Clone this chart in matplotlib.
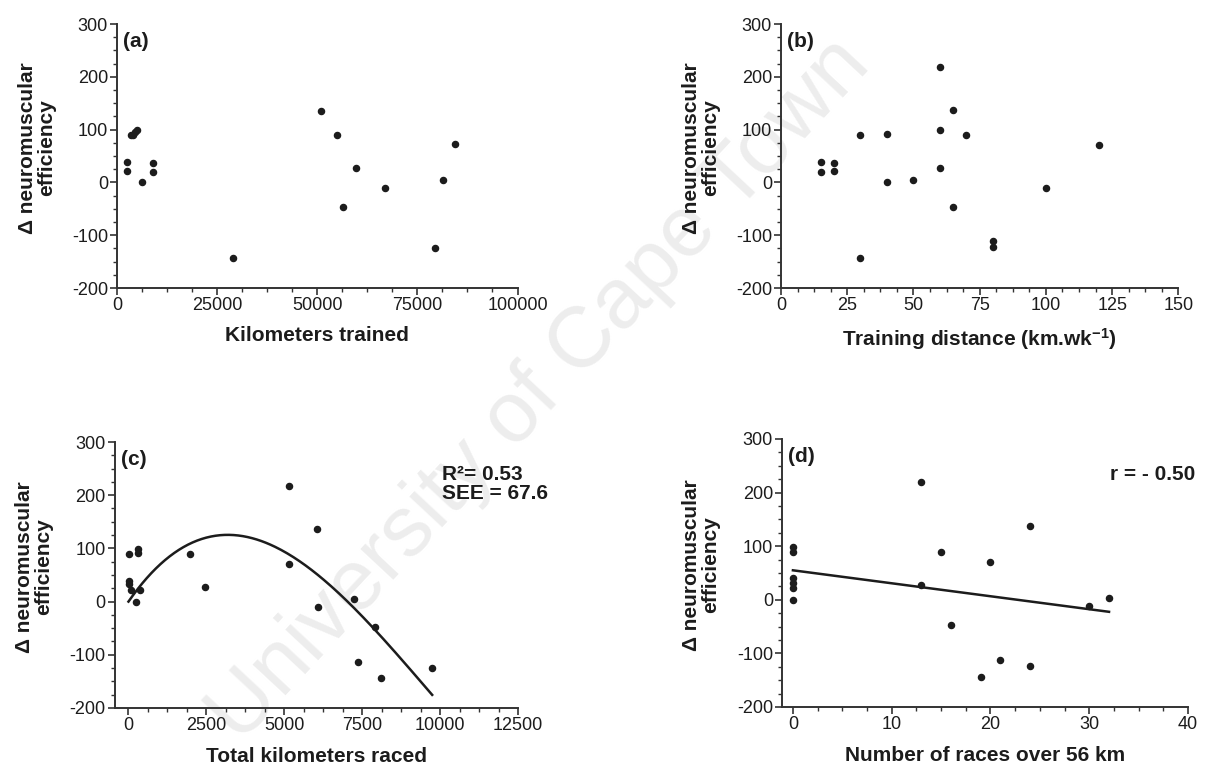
import numpy as np
import matplotlib
matplotlib.use('Agg')
import matplotlib.pyplot as plt
from matplotlib.ticker import MultipleLocator, AutoMinorLocator

plt.rcParams['font.family'] = ['Liberation Sans', 'DejaVu Sans']
plt.rcParams['axes.unicode_minus'] = False
plt.rcParams['mathtext.fontset'] = 'custom'
plt.rcParams['mathtext.rm'] = 'Liberation Sans:bold'
plt.rcParams['mathtext.it'] = 'Liberation Sans:bold'
plt.rcParams['mathtext.bf'] = 'Liberation Sans:bold'

INK = '#1c1c1c'

# (a) cumulative kilometres trained
km_trained = [2400, 2600, 3400, 4000, 4500, 5000, 6200, 9100, 9100, 28900,
              51000, 54900, 56400, 59600, 66800, 79500, 81300, 84400]
nme_a = [39, 21, 90, 90, 96, 99, 0, 36, 20, -144,
         136, 90, -47, 27, -10, -125, 4, 72]

# (b) weekly training distance
km_per_week = [15, 15, 20, 20, 30, 30, 40, 40, 50, 60, 60, 60, 65, 65, 70, 80, 80, 100, 120]
nme_b = [39, 20, 36, 22, 90, -143, 91, 0, 5, 219, 99, 28, 137, -46, 90, -111, -123, -10, 71]

# (c) total kilometres raced, with cubic fit
km_raced = [20, 20, 30, 90, 240, 290, 290, 380, 1980, 2470,
            5140, 5140, 6050, 6070, 7230, 7360, 7910, 8090, 9740]
nme_c = [90, 38, 33, 22, 0, 99, 92, 22, 90, 27,
         218, 71, 137, -11, 4, -113, -47, -144, -125]
cubic_coef = [5.52e-10, -1.589e-5, 0.0844, 0.0]   # highest power first

# (d) races over 56 km, with linear fit
races_56 = [0, 0, 0, 0, 0, 0, 13, 13, 15, 16, 19, 20, 21, 24, 24, 30, 32]
nme_d = [99, 90, 40, 31, 22, 0, 219, 28, 90, -47, -144, 71, -113, 137, -124, -11, 4]
line_coef = [-2.42, 55.0]

fig = plt.figure(figsize=(12.08, 7.73), dpi=100)

# watermark behind everything
fig.text(0.447, 0.495, 'University of Cape Town', fontsize=62, color='#ededed',
         rotation=47, ha='center', va='center', zorder=-5)

rects = {
    'a': [0.0969, 0.6274, 0.3315, 0.3415],
    'b': [0.6465, 0.6274, 0.3290, 0.3415],
    'c': [0.0950, 0.0841, 0.3340, 0.3441],
    'd': [0.6474, 0.0854, 0.3361, 0.3467],
}


def style_axes(ax, xlim, xmajor, xlabel, tag):
    ax.set_facecolor('none')
    ax.set_xlim(*xlim)
    ax.set_ylim(-200, 300)
    ax.xaxis.set_major_locator(MultipleLocator(xmajor))
    ax.xaxis.set_minor_locator(AutoMinorLocator(4))
    ax.yaxis.set_major_locator(MultipleLocator(100))
    ax.yaxis.set_minor_locator(AutoMinorLocator(4))
    for side in ['top', 'right']:
        ax.spines[side].set_visible(False)
    for side in ['left', 'bottom']:
        ax.spines[side].set_linewidth(1.4)
        ax.spines[side].set_color('#333333')
    ax.tick_params(which='major', direction='out', length=5, width=1.2,
                   color='#333333', labelsize=13, labelcolor=INK, pad=1.5)
    ax.tick_params(which='minor', direction='out', length=3, width=1.0, color='#333333')
    ax.set_ylabel('\u0394 neuromuscular\nefficiency', fontsize=15, fontweight='bold',
                  color=INK, linespacing=1.0)
    ax.yaxis.set_label_coords(-0.153, 0.53)
    ax.set_xlabel(xlabel, fontsize=15, fontweight='bold', color=INK)
    ax.xaxis.set_label_coords(0.5, -0.145)
    ax.text(0.015, 0.97, tag, transform=ax.transAxes, ha='left', va='top',
            fontsize=15, fontweight='bold', color=INK)


ax_a = fig.add_axes(rects['a'])
ax_a.plot(km_trained, nme_a, 'o', ms=4.4, color=INK, clip_on=False)
style_axes(ax_a, (0, 100000), 25000, 'Kilometers trained', '(a)')

ax_b = fig.add_axes(rects['b'])
ax_b.plot(km_per_week, nme_b, 'o', ms=4.4, color=INK, clip_on=False)
style_axes(ax_b, (0, 150), 25, r'Training distance (km.wk$^{-1}$)', '(b)')

ax_c = fig.add_axes(rects['c'])
ax_c.plot(km_raced, nme_c, 'o', ms=4.4, color=INK, clip_on=False)
xfit = np.linspace(0, max(km_raced), 200)
ax_c.plot(xfit, np.polyval(cubic_coef, xfit), color=INK, lw=1.8)
style_axes(ax_c, (-440, 12500), 2500, 'Total kilometers raced', '(c)')
ax_c.text(0.81, 0.915, 'R\u00b2= 0.53\nSEE = 67.6', transform=ax_c.transAxes,
          ha='left', va='top', fontsize=15, fontweight='bold', color=INK, linespacing=1.05)

ax_d = fig.add_axes(rects['d'])
ax_d.plot(races_56, nme_d, 'o', ms=4.4, color=INK, clip_on=False)
xline = np.array([0, max(races_56)])
ax_d.plot(xline, np.polyval(line_coef, xline), color=INK, lw=1.8)
style_axes(ax_d, (-1.1, 40), 10, 'Number of races over 56 km', '(d)')
ax_d.text(1.017, 0.866, 'r = - 0.50', transform=ax_d.transAxes,
          ha='right', va='center', fontsize=15, fontweight='bold', color=INK)

fig.savefig('out.png', dpi=100, facecolor='white')
